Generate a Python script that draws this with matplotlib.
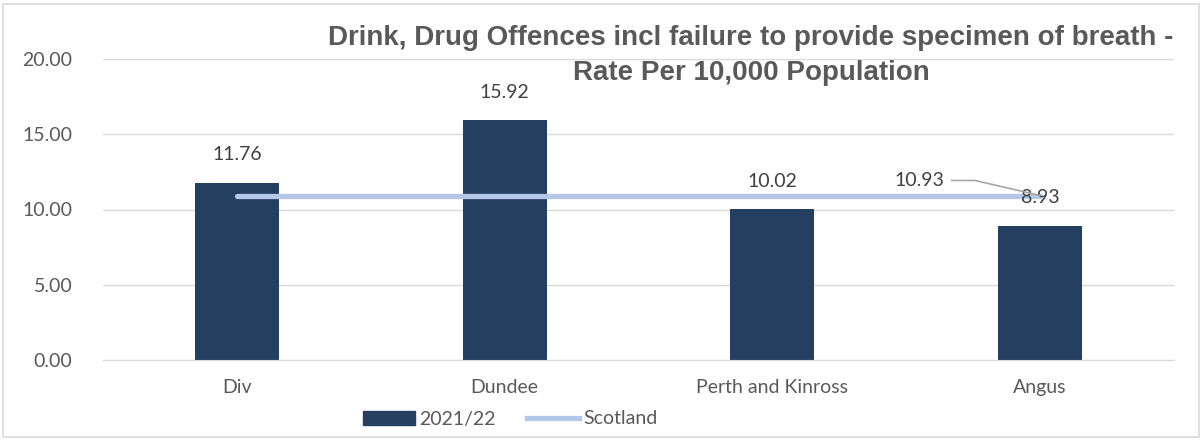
import matplotlib.pyplot as plt
from matplotlib.patches import Rectangle
from matplotlib.lines import Line2D

# data
areas = ["Div", "Dundee", "Perth and Kinross", "Angus"]
rate_2021 = [11.76, 15.92, 10.02, 8.93]
scotland = [10.93, 10.93, 10.93, 10.93]
yticks = [0, 5, 10, 15, 20]

bar_col = "#243F60"
line_col = "#B4C7E7"
txt_col = "#595959"
fs = 14

plt.rcParams["font.family"] = ["Lato", "DejaVu Sans"]

fig = plt.figure(figsize=(12.02, 4.41), dpi=100)
ax = fig.add_axes([103 / 1202, 1 - 360 / 441, 1071 / 1202, 301 / 441])

x = list(range(len(areas)))
ax.bar(x, rate_2021, width=0.314, color=bar_col, zorder=2, label="2021/22")
ax.plot(x, scotland, color=line_col, lw=3.8, zorder=3, label="Scotland",
        solid_capstyle="round")

for xi, v in zip(x, rate_2021):
    ax.text(xi, v + 1.3, f"{v:.2f}", ha="center", va="bottom",
            fontsize=fs, color="#404040")

# Scotland label with leader line
ax.annotate(f"{scotland[-1]:.2f}", xy=(x[-1], scotland[-1]),
            xytext=(x[-1] - 0.45, scotland[-1] + 1.0), ha="center", va="center",
            fontsize=fs, color="#404040",
            arrowprops=dict(arrowstyle="-", color="#A6A6A6", lw=1.2,
                            shrinkA=3, shrinkB=0,
                            connectionstyle="angle,angleA=0,angleB=-13,rad=0"))

ax.set_xlim(-0.5, 3.5)
ax.set_ylim(0, 20)
ax.set_yticks(yticks)
ax.set_yticklabels([f"{t:.2f}" for t in yticks])
ax.set_xticks(x)
ax.set_xticklabels(areas)
ax.tick_params(axis="both", length=0, colors=txt_col, labelsize=fs)
ax.tick_params(axis="x", pad=14)
ax.tick_params(axis="y", pad=22)
ax.grid(axis="y", color="#D9D9D9", lw=1, zorder=0)
for s in ["top", "right", "left"]:
    ax.spines[s].set_visible(False)
ax.spines["bottom"].set_color("#D9D9D9")

fig.text(751 / 1202, 1 - 45 / 441,
         "Drink, Drug Offences incl failure to provide specimen of breath -",
         ha="center", va="baseline", fontsize=20, fontweight="bold",
         color=txt_col, family="Liberation Sans")
fig.text(751 / 1202, 1 - 80 / 441, "Rate Per 10,000 Population",
         ha="center", va="baseline", fontsize=20, fontweight="bold",
         color=txt_col, family="Liberation Sans")

handles = [Rectangle((0, 0), 1, 1, color=bar_col),
           Line2D([0], [0], color=line_col, lw=3.8)]
fig.legend(handles, ["2021/22", "Scotland"], loc="center",
           bbox_to_anchor=(510 / 1202, 1 - 419 / 441), ncol=2, frameon=False,
           fontsize=fs, labelcolor=txt_col, handlelength=2.7,
           handletextpad=0.2, columnspacing=1.6)

fig.patches.append(Rectangle((3 / 1202, 4 / 441), 1 - 6 / 1202, 1 - 8 / 441,
                             transform=fig.transFigure, fill=False,
                             ec="#D9D9D9", lw=1.2))

fig.savefig("out.png", dpi=100)
